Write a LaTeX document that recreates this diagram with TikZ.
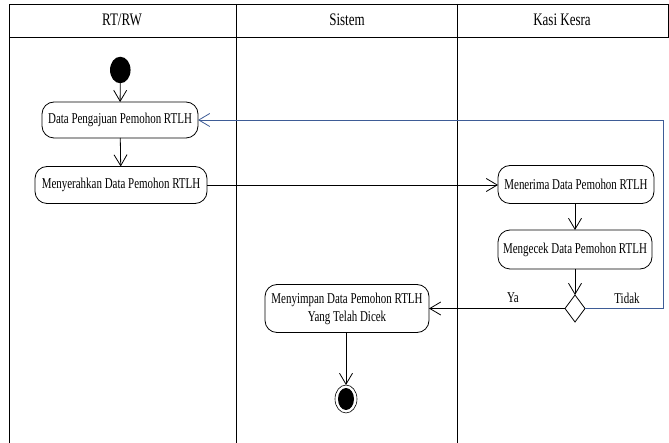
\documentclass[tikz,border=0pt]{standalone}
\usepackage{fontspec}
\setmainfont{Liberation Serif}
\newfontfamily\nodefont[FakeStretch=0.73]{Liberation Serif}
\newfontfamily\headfont[FakeStretch=0.74]{Liberation Serif}
\usetikzlibrary{arrows.meta,shapes.geometric}
\definecolor{loopblue}{RGB}{62,92,150}
\begin{document}
\begin{tikzpicture}[x=1pt,y=-1pt,
  lane/.style={draw=black,line width=0.9pt},
  act/.style={draw=black,line width=0.8pt,rounded corners=12pt,align=center,
    font=\nodefont\fontsize{15}{18}\selectfont,inner sep=0pt,outer sep=0pt},
  lbl/.style={font=\nodefont\fontsize{15}{18}\selectfont,inner sep=0pt},
  head/.style={font=\headfont\fontsize{17.6}{20}\selectfont,inner sep=0pt},
  flow/.style={draw=black,line width=0.8pt,-{Straight Barb[length=11pt,width=13pt,line width=0.8pt]}},
  back/.style={draw=loopblue,line width=0.8pt,-{Straight Barb[length=11pt,width=13pt,line width=0.8pt]}},
  decision/.style={draw=black,line width=0.8pt,shape=diamond,minimum width=20pt,minimum height=27pt,inner sep=0pt,outer sep=0pt,fill=white}
]
\useasboundingbox (0,0) rectangle (669,443);
% swimlanes
\draw[lane] (9,4) rectangle (668,37);
\draw[lane] (9,37) -- (9,443);
\draw[lane] (236.5,4) -- (236.5,443);
\draw[lane] (457.5,4) -- (457.5,443);
\node[head] (h1) at (122,20) {RT/RW};
\node[head] (h2) at (347,20) {Sistem};
\node[head] (h3) at (562,20) {Kasi Kesra};
% nodes
\node[fill=black,ellipse,minimum width=20.5pt,minimum height=26.5pt,inner sep=0pt,outer sep=0pt] (start) at (120.3,70) {};
\node[act,minimum width=156pt,minimum height=36pt] (dp) at (120,120) {Data Pengajuan Pemohon RTLH};
\node[act,minimum width=172pt,minimum height=37pt] (ms) at (121,185) {Menyerahkan Data Pemohon RTLH};
\node[act,minimum width=156pt,minimum height=38pt] (mn) at (576,184.5) {Menerima Data Pemohon RTLH};
\node[act,minimum width=154pt,minimum height=39pt] (mc) at (575,249.5) {Mengecek Data Pemohon RTLH};
\node[decision] (dec) at (575,308.5) {};
\node[act,minimum width=164pt,minimum height=48pt] (sv) at (347,308.5) {Menyimpan Data Pemohon RTLH\\Yang Telah Dicek};
\node[draw=black,line width=0.6pt,ellipse,minimum width=22pt,minimum height=28pt,inner sep=0pt,outer sep=0pt] (end) at (346,399) {};
\node[fill=black,ellipse,minimum width=16pt,minimum height=22pt,inner sep=0pt] (endin) at (346,399) {};
\coordinate (turn) at (663,308.5);
\coordinate (top) at (663,120);
% connectors
\draw[flow] (start) -- (dp);
\draw[flow] (dp) -- (ms);
\draw[flow] (ms.east) -- (ms.east -| mn.west);
\draw[flow] (mn.south -| mc.north) -- (mc.north);
\draw[flow] (mc) -- (dec);
\draw[flow] (dec.west) -- (sv.east);
\draw[flow] (sv.south -| end.north) -- (end.north);
\draw[back] (dec.east) -- (turn) -- (top) -- (dp.east);
% labels
\node[lbl] (ya) at (513,298) {Ya};
\node[lbl] (tidak) at (627,298) {Tidak};
\end{tikzpicture}
\end{document}
